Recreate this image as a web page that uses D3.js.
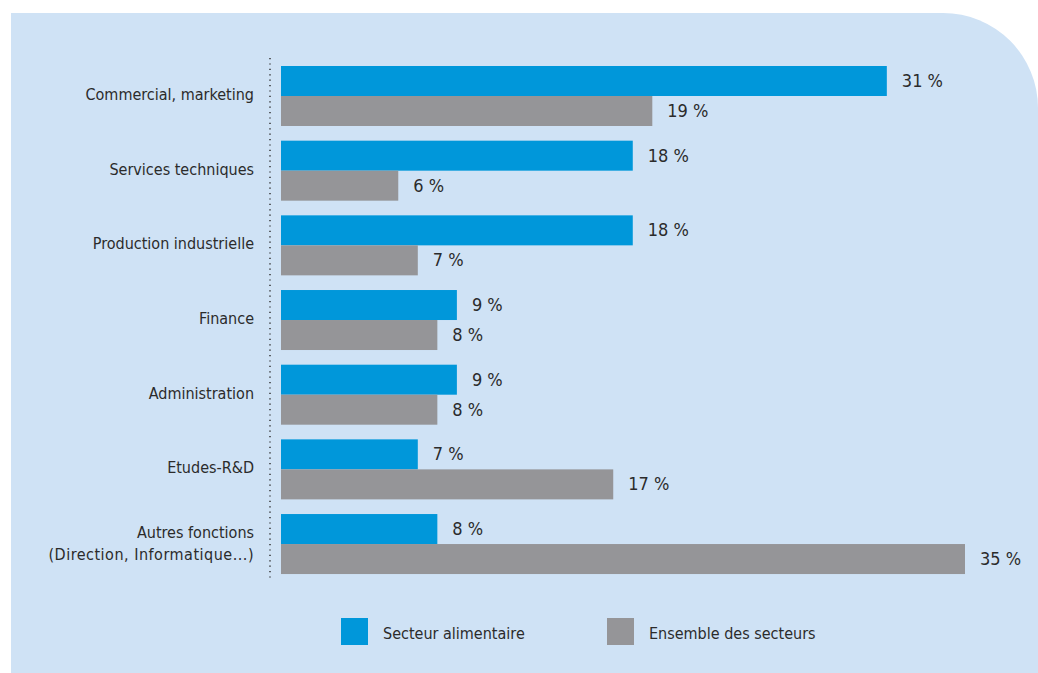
<!DOCTYPE html>
<html lang="fr">
<head>
<meta charset="UTF-8">
<title>Fonctions</title>
<script src="https://cdnjs.cloudflare.com/ajax/libs/d3/7.9.0/d3.min.js"></script>
<style>
  body { margin: 0; background: #fff; }
  text { font-family: "DejaVu Sans Condensed", "DejaVu Sans", sans-serif; fill: #2b2b2b; }
</style>
</head>
<body>
<svg id="chart" width="1038" height="673"></svg>
<script>
  // fonctions
  const categories = [
    ["Commercial, marketing"],
    ["Services techniques"],
    ["Production industrielle"],
    ["Finance"],
    ["Administration"],
    ["Etudes-R&D"],
    ["Autres fonctions", "(Direction, Informatique...)"]
  ];
  const secteurAlimentaire = [31, 18, 18, 9, 9, 7, 8];
  const ensembleSecteurs = [19, 6, 7, 8, 8, 17, 35];
  const seriesNames = ["Secteur alimentaire", "Ensemble des secteurs"];
  const colors = ["#0097da", "#959598"];

  const svg = d3.select("#chart");

  // fond bleu avec coin arrondi en haut a droite
  const px = 11, py = 13, pw = 1038 - 11, ph = 673 - 13, r = 95;
  svg.append("path")
    .attr("d", `M${px},${py} H${px + pw - r} A${r},${r} 0 0 1 ${px + pw},${py + r} V${py + ph} H${px} Z`)
    .attr("fill", "#cfe2f5");

  const x = d3.scaleLinear().domain([0, 35]).range([281, 965]);
  const y = d3.scaleBand().domain(d3.range(categories.length)).range([66, 574]).paddingInner(0.197).paddingOuter(0);
  const barH = 30;

  // ligne pointillee
  svg.append("line")
    .attr("x1", 270).attr("x2", 270).attr("y1", 58).attr("y2", 580)
    .attr("stroke", "#333").attr("stroke-width", 1.5)
    .attr("stroke-dasharray", "1.2,4.2");

  const rows = svg.append("g").selectAll("g")
    .data(categories)
    .join("g")
    .attr("transform", (d, i) => `translate(0,${y(i)})`);

  [secteurAlimentaire, ensembleSecteurs].forEach(function (vals, s) {
    rows.append("rect")
      .attr("x", x(0))
      .attr("y", s * barH)
      .attr("width", (d, i) => x(vals[i]) - x(0))
      .attr("height", barH)
      .attr("fill", colors[s]);

    rows.append("text")
      .attr("x", (d, i) => x(vals[i]) + 15)
      .attr("y", s * barH + barH / 2 + 6)
      .attr("font-size", 18)
      .text((d, i) => vals[i] + " %");
  });

  rows.append("text")
    .attr("text-anchor", "end")
    .attr("font-size", 16)
    .each(function (d) {
      const t = d3.select(this);
      const y0 = barH + 4 - (d.length - 1) * 10;
      d.forEach(function (line, k) {
        t.append("tspan").attr("x", 254).attr("y", y0 + k * 22)
          .attr("letter-spacing", k > 0 ? 0.5 : 0).text(line);
      });
    });

  // legende
  const legend = svg.append("g").selectAll("g")
    .data(seriesNames)
    .join("g")
    .attr("transform", (d, i) => `translate(${[341, 607][i]},618)`);
  legend.append("rect").attr("width", 27).attr("height", 27).attr("fill", (d, i) => colors[i]);
  legend.append("text").attr("x", 42).attr("y", 21).attr("font-size", 16).text(d => d);
</script>
</body>
</html>
